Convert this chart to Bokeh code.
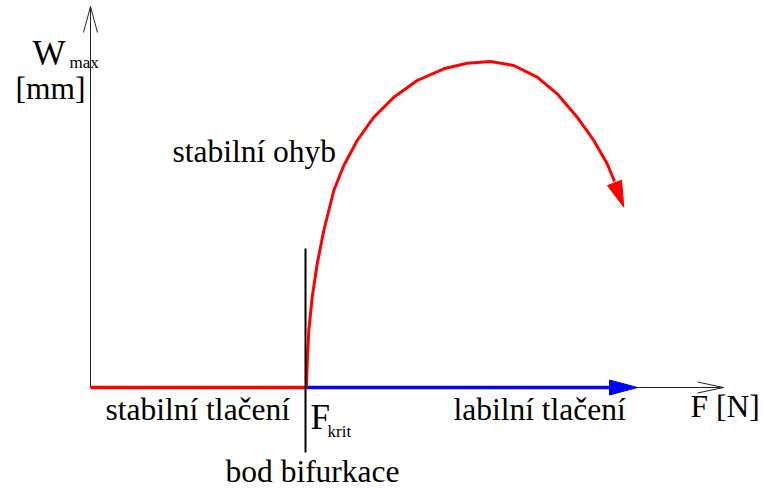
import numpy as np
from bokeh.plotting import figure
from bokeh.models import Range1d
from bokeh.core.properties import value
from bokeh.embed import file_html
from bokeh.resources import INLINE

# ---- data (diagram units: F to the right, W upward, origin at axes crossing)
F_krit = 216
F_axis_end = 633
W_axis_end = 381
F_blue_end = 547          # tip of blue arrow

# stable bending branch (red curve)
F_bend = [216, 216.7, 218.3, 221.7, 226.7, 233.3, 243.3, 253.3, 266.7, 283.3, 303.3,
          326.7, 353.3, 376.7, 400, 423.3, 446.7, 466.7, 486.7, 503.3, 516.7, 524]
W_bend = [0, 23.7, 57, 90.3, 123.7, 157, 197, 222, 247, 270.3, 290.3,
          307, 318.7, 324.3, 326, 322, 310.3, 293.7, 270.3, 247, 223.7, 206]
bend_tip = (533.3, 180.3)

# bifurcation marker
bif_F = 215
bif_W = [139, -65]

labels = ["stabilní ohyb", "stabilní tlačení", "labilní tlačení", "bod bifurkace", "F [N]", "[mm]"]
label_F = [82, 15, 363, 135, 600, -75]
label_W = [236, -22, -22, -84, -19, 299]

FONT = value("Liberation Serif")

p = figure(width=762, height=490, output_backend="svg", toolbar_location=None,
           x_range=Range1d(-90, 672), y_range=Range1d(-103, 387),
           min_border=0, outline_line_color=None)
p.axis.visible = False
p.grid.visible = False
p.background_fill_color = "white"
p.border_fill_color = "white"


def head(tip, base, length, half_w):
    tip = np.array(tip, float); base = np.array(base, float)
    d = tip - base
    d /= np.hypot(*d)
    n = np.array([-d[1], d[0]])
    b = tip - d * length
    return [tip, b + n * half_w, b - n * half_w]

# axes
p.line([0, F_axis_end], [0, 0], line_color="#222222", line_width=1)
p.line([0, 0], [0, W_axis_end], line_color="#222222", line_width=1)
for tip, base, hw in [((F_axis_end, 0), (0, 0), 5.5), ((0, W_axis_end), (0, 0), 7)]:
    a, b1, b2 = head(tip, base, 26, hw)
    p.multi_line([[b1[0], a[0]], [b2[0], a[0]]], [[b1[1], a[1]], [b2[1], a[1]]],
                 line_color="#222222", line_width=1)

# stable compression (red)
p.line([0, F_krit], [0, 0], line_color="red", line_width=3.5)
# unstable compression (blue) with arrow
h = head((F_blue_end, 0), (F_krit, 0), 28, 7.5)
p.line([F_krit, h[0][0] - 26], [0, 0], line_color="blue", line_width=3.5)
p.patch([q[0] for q in h], [q[1] for q in h], fill_color="blue", line_color="blue")

# stable bending curve (red) with arrow
p.line(F_bend, W_bend, line_color="red", line_width=3, line_join="round")
h = head(bend_tip, (F_bend[-2], W_bend[-2]), 26, 7.5)
p.patch([q[0] for q in h], [q[1] for q in h], fill_color="red", line_color="red")

# bifurcation vertical line
p.line([bif_F, bif_F], bif_W, line_color="black", line_width=2)

# labels
p.text(x=label_F, y=label_W, text=labels, text_font=FONT, text_font_size="31.5px",
       text_color="black", text_baseline="alphabetic", text_align="left")
p.text(x=[-58, 220], y=[334, -30], text=["W", "F"], text_font=FONT, text_font_size="35px",
       text_color="black", text_baseline="alphabetic", text_align="left")
p.text(x=[-21, 237], y=[325, -44], text=["max", "krit"], text_font=FONT, text_font_size="17px",
       text_color="black", text_baseline="alphabetic", text_align="left")

open("out.html", "w").write(file_html(p, INLINE))
